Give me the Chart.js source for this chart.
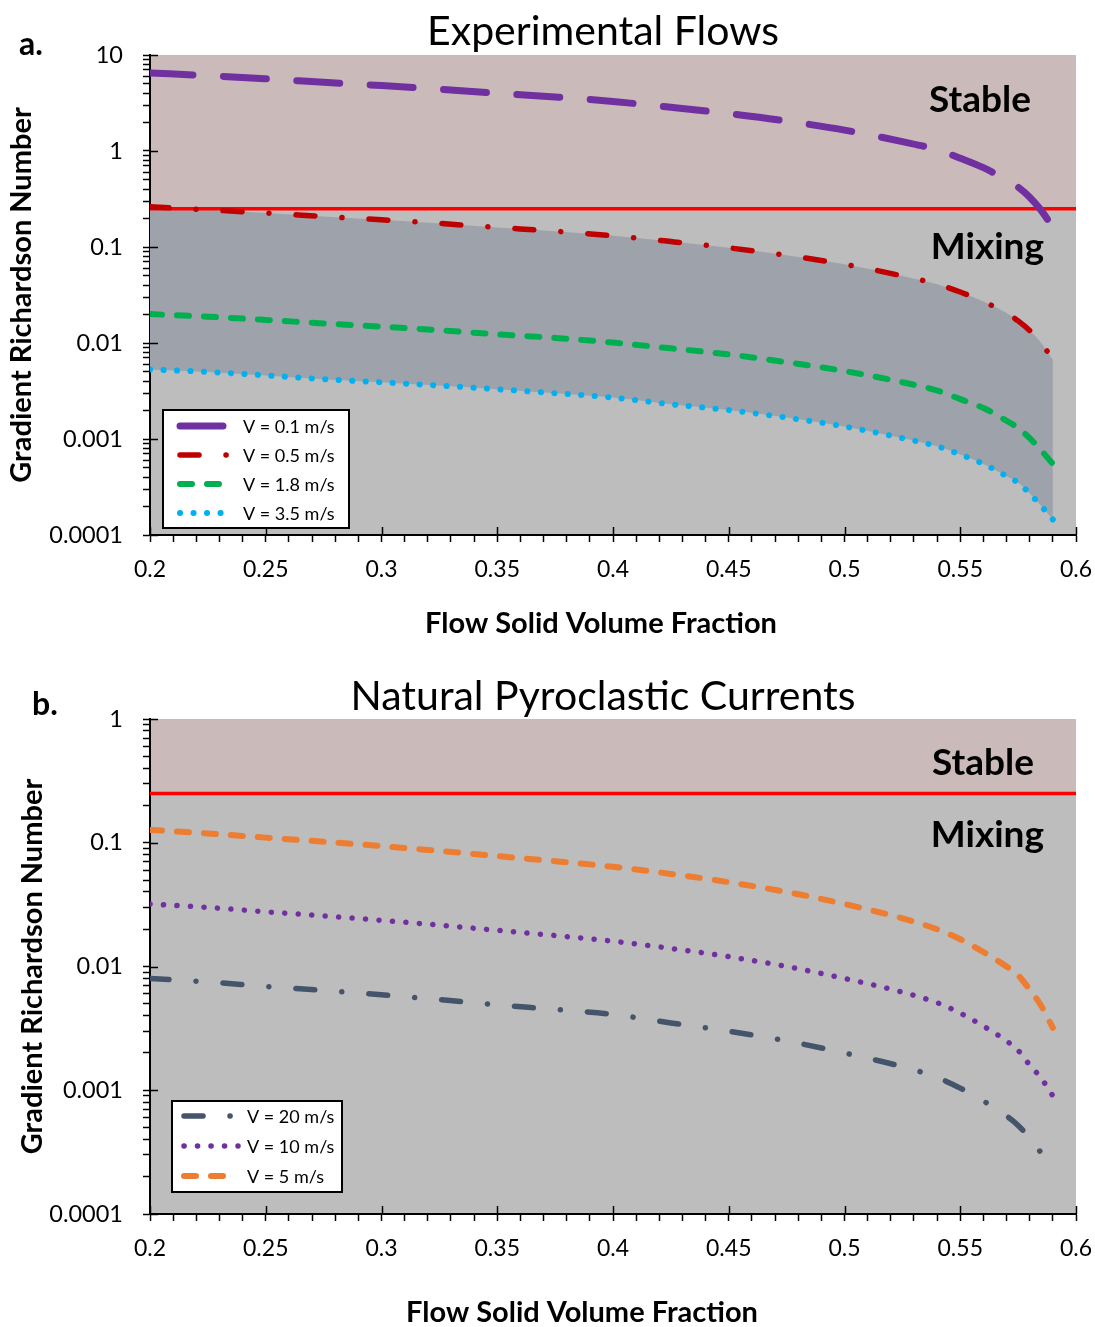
<!DOCTYPE html>
<html><head><meta charset="utf-8">
<script src="https://cdn.jsdelivr.net/npm/chart.js@4.4.1/dist/chart.umd.min.js"></script>
<style>
html,body{margin:0;padding:0;background:#fff;}
body{width:1095px;height:1327px;position:relative;overflow:hidden;}
.wrap{position:absolute;left:0;width:1095px;}
#wa{top:0;height:660px;}
#wb{top:660px;height:667px;}
canvas{display:block;}
</style></head><body>
<div class="wrap" id="wa"><canvas id="ca" width="1095" height="660"></canvas></div>
<div class="wrap" id="wb"><canvas id="cb" width="1095" height="667"></canvas></div>
<script>
// ---------------- DATA ----------------
const PHI = [0.2,0.225,0.25,0.275,0.3,0.325,0.35,0.375,0.4,0.425,0.45,0.475,0.5,0.525,0.54,0.55,0.56,0.57,0.575,0.58,0.585,0.59];

// (a) Experimental flows
const RI_EXP_V01 = [6.5,6.1,5.65,5.2,4.8,4.4,4.0,3.65,3.28,2.85,2.45,2.05,1.65,1.25,1.03,0.84,0.67,0.50,0.42,0.33,0.24,0.16];
const RI_EXP_V05 = [0.262,0.244,0.226,0.208,0.192,0.176,0.160,0.146,0.131,0.114,0.098,0.082,0.066,0.050,0.041,0.034,0.027,0.0205,0.017,0.0135,0.0100,0.0067];
const RI_EXP_V18 = [0.0200,0.0188,0.0174,0.0160,0.0148,0.0136,0.0123,0.0113,0.0101,0.0088,0.0076,0.0063,0.0051,0.0039,0.0032,0.0026,0.0021,0.00155,0.0013,0.00102,0.00076,0.00055];
const RI_EXP_V35 = [0.0053,0.0050,0.0046,0.0042,0.0039,0.0036,0.0033,0.0030,0.0027,0.0023,0.0020,0.00167,0.00135,0.00102,0.00084,0.00069,0.00055,0.00041,0.00035,0.00027,0.00020,0.000145];

// (b) Natural pyroclastic currents
const RI_NAT_V20 = [0.0080,0.0075,0.0069,0.0064,0.0059,0.0054,0.0049,0.0045,0.0041,0.0035,0.0030,0.0025,0.0020,0.00155,0.00127,0.00104,0.00082,0.00062,0.00052,0.00041,0.00031,0.00022];
const RI_NAT_V10 = [0.032,0.030,0.0277,0.0256,0.0236,0.0216,0.0196,0.0178,0.0160,0.0140,0.0120,0.0100,0.0080,0.0062,0.0051,0.0042,0.0033,0.0025,0.0021,0.0016,0.00125,0.0009];
const RI_NAT_V5  = [0.127,0.119,0.110,0.102,0.094,0.086,0.078,0.071,0.064,0.056,0.048,0.040,0.032,0.0245,0.020,0.0166,0.0131,0.0100,0.0085,0.0065,0.0048,0.0032];

const RI_CRIT = 0.25;

const X_MAJOR = [0.2,0.25,0.3,0.35,0.4,0.45,0.5,0.55,0.6];
const X_LABELS = ['0.2','0.25','0.3','0.35','0.4','0.45','0.5','0.55','0.6'];
const Y_A_DECADES = [0.0001,0.001,0.01,0.1,1,10];
const Y_A_LABELS = ['0.0001','0.001','0.01','0.1','1','10'];
const Y_B_DECADES = [0.0001,0.001,0.01,0.1,1];
const Y_B_LABELS = ['0.0001','0.001','0.01','0.1','1'];

const LEGEND_A = ['V = 0.1 m/s','V = 0.5 m/s','V = 1.8 m/s','V = 3.5 m/s'];
const LEGEND_B = ['V = 20 m/s','V = 10 m/s','V = 5 m/s'];

// ---------------- STYLE ----------------
const STABLE_COLOR = '#cbbaba';
const MIX_COLOR = '#bdbdbd';
const BAND_COLOR = '#9ea2ab';

Chart.defaults.font.family = 'Lato, "Open Sans", sans-serif';
Chart.defaults.color = '#000';

function pts(arr){ return PHI.map((x,i)=>({x:x, y:arr[i]})); }
function line(label, arr, color, width, dash, extra){
  return Object.assign({label:label, data:pts(arr), borderColor:color, backgroundColor:color,
    borderWidth:width, borderDash:dash, borderCapStyle:'round', borderJoinStyle:'round',
    pointRadius:0, cubicInterpolationMode:'monotone', fill:false, inLegend:true}, extra||{});
}
function critLine(){
  return {label:'Ri = 0.25', data:[{x:0.2,y:RI_CRIT},{x:0.6,y:RI_CRIT}], borderColor:'#ff0000',
    borderWidth:3.5, pointRadius:0, fill:false, inLegend:false};
}

function logTicks(decades){
  const out = [];
  for (let i=0;i<decades.length;i++){
    const d = decades[i];
    if (i === decades.length-1){ out.push(d); break; }
    for (let k=1;k<=9;k++) out.push(Number((k*d).toPrecision(4)));
  }
  return out;
}
function xTicks(){
  const out=[]; for(let i=20;i<=60;i++) out.push(i/100); return out;
}

const regionsPlugin = {
  id:'regions',
  beforeDraw(chart){
    const {ctx, chartArea:a, scales:{y}} = chart;
    const yc = y.getPixelForValue(RI_CRIT);
    ctx.save();
    ctx.fillStyle = MIX_COLOR;
    ctx.fillRect(a.left, a.top, a.right-a.left, a.bottom-a.top);
    ctx.fillStyle = STABLE_COLOR;
    ctx.fillRect(a.left, a.top, a.right-a.left, yc-a.top);
    ctx.restore();
  }
};

const annotPlugin = {
  id:'annot',
  afterLayout(chart, args, o){
    const s = chart.scales.x;
    if (s && !s._titleShifted){
      const orig = s.drawTitle;
      s.drawTitle = function(){ this.ctx.save(); this.ctx.translate(o.xTitleDx, 0); orig.apply(this, arguments); this.ctx.restore(); };
      s._titleShifted = true;
    }
  },
  afterDraw(chart, args, o){
    const {ctx, chartArea:a, scales:{x,y}} = chart;
    ctx.save();
    // inward half of major ticks
    ctx.strokeStyle='#000'; ctx.lineWidth=1.5; ctx.setLineDash([]);
    o.yDecades.forEach(v=>{ const py=Math.round(y.getPixelForValue(v))+0.5; ctx.beginPath(); ctx.moveTo(a.left, py); ctx.lineTo(a.left+8, py); ctx.stroke(); });
    X_MAJOR.forEach(v=>{ const px=Math.round(x.getPixelForValue(v))+0.5; ctx.beginPath(); ctx.moveTo(px, a.bottom); ctx.lineTo(px, a.bottom-8); ctx.stroke(); });
    // texts
    ctx.fillStyle='#000'; ctx.textBaseline='middle';
    ctx.font = 'normal 41px Lato'; ctx.textAlign='center';
    ctx.fillText(o.title, o.titleX, o.titleY);
    ctx.font = 'bold 32px Lato'; ctx.textAlign='center';
    ctx.fillText(o.letter, o.letterX, o.letterY);
    ctx.font = 'bold 37px Lato'; ctx.textAlign='right';
    ctx.fillText('Stable', o.stableX, o.stableY);
    ctx.fillText('Mixing', o.mixX, o.mixY);
    // legend
    const L = o.legend;
    ctx.fillStyle='#fff'; ctx.fillRect(L.x, L.y, L.w, L.h);
    ctx.strokeStyle='#000'; ctx.lineWidth=2; ctx.strokeRect(L.x, L.y, L.w, L.h);
    o.legendOrder.forEach((idx, r)=>{
      const d = chart.data.datasets[idx];
      const ry = L.y + L.rowTop + r*L.rowH;
      ctx.save();
      ctx.strokeStyle = d.borderColor; ctx.lineWidth = d.borderWidth;
      ctx.lineCap='round'; ctx.setLineDash(d.borderDash||[]);
      ctx.beginPath(); ctx.moveTo(L.x+L.s0, ry); ctx.lineTo(L.x+L.s1, ry); ctx.stroke();
      ctx.restore();
      ctx.fillStyle='#000'; ctx.font='normal 18px Lato'; ctx.textAlign='left'; ctx.textBaseline='middle';
      ctx.fillText(o.legendLabels[r], L.x+L.tx, ry+1);
    });
    ctx.restore();
  }
};

function makeOptions(cfg){
  return {
    responsive:false, animation:false, devicePixelRatio:1,
    layout:{padding:{top:cfg.top, right:19, left:0, bottom:0}},
    plugins:{
      legend:{display:false}, tooltip:{enabled:false}, title:{display:false},
      filler:{drawTime:'beforeDatasetsDraw'},
      annot: cfg.annot
    },
    scales:{
      x:{type:'linear', min:0.2, max:0.6,
        afterBuildTicks:s=>{ s.ticks = xTicks().map(v=>({value:v})); },
        afterFit:s=>{ s.height = cfg.xHeight; s.paddingLeft = 0; s.paddingRight = 0; },
        ticks:{autoSkip:false, maxRotation:0, padding:14, font:{size:23},
          callback:v=>{ const i = X_MAJOR.findIndex(m=>Math.abs(m-v)<1e-9); return i>=0 ? X_LABELS[i] : ''; }},
        grid:{drawOnChartArea:false, drawTicks:true, tickLength:7, tickColor:'#000', tickWidth:1.5},
        border:{display:true, color:'#000', width:2},
        title:{display:true, text:'Flow Solid Volume Fraction', font:{size:29, weight:'bold', lineHeight:1}, padding:{top:0, bottom:cfg.xTitlePad}}
      },
      y:{type:'logarithmic', min:cfg.ymin, max:cfg.ymax,
        afterBuildTicks:s=>{ s.ticks = logTicks(cfg.decades).map(v=>({value:v})); },
        afterFit:s=>{ s.width = 150; s.paddingTop = 0; s.paddingBottom = 0; },
        ticks:{autoSkip:false, padding:20, font:{size:23.5},
          callback:v=>{ const i = cfg.decades.findIndex(m=>Math.abs(v/m-1)<1e-6); return i>=0 ? cfg.labels[i] : ''; }},
        grid:{drawOnChartArea:false, drawTicks:true, tickLength:7, tickColor:'#000', tickWidth:1.5},
        border:{display:true, color:'#000', width:2},
        title:{display:true, text:'Gradient Richardson Number', font:{size:29, weight:'bold'}, padding:{top:cfg.yTitlePad, bottom:0}}
      }
    }
  };
}

// Chart a
new Chart(document.getElementById('ca'), {
  type:'line',
  data:{datasets:[
    line(LEGEND_A[0], RI_EXP_V01, '#7030a0', 7, [43,30.5]),
    line(LEGEND_A[1], RI_EXP_V05, '#c00000', 5.5, [19,27,0.1,27], {fill:{target:3}, backgroundColor:BAND_COLOR}),
    line(LEGEND_A[2], RI_EXP_V18, '#00b050', 6, [12,15]),
    line(LEGEND_A[3], RI_EXP_V35, '#00b0f0', 6, [0.1,13.4]),
    critLine()
  ]},
  options: makeOptions({top:55, xHeight:660-535, xTitlePad:21.5, yTitlePad:4.6, ymin:0.0001, ymax:10,
    decades:Y_A_DECADES, labels:Y_A_LABELS,
    annot:{title:'Experimental Flows', titleX:603, titleY:32, letter:'a.', letterX:31, letterY:45,
      stableX:1031, stableY:100, mixX:1044, mixY:247, yDecades:Y_A_DECADES, xTitleDx:-12,
      legend:{x:163, y:410, w:186, h:118, rowTop:16, rowH:29, s0:17, s1:69, tx:80},
      legendOrder:[0,1,2,3], legendLabels:LEGEND_A}}),
  plugins:[regionsPlugin, annotPlugin]
});

// Chart b
new Chart(document.getElementById('cb'), {
  type:'line',
  data:{datasets:[
    line(LEGEND_B[0], RI_NAT_V20, '#44546a', 5.5, [19,27,0.1,27]),
    line(LEGEND_B[1], RI_NAT_V10, '#7030a0', 5.5, [0.1,13.4]),
    line(LEGEND_B[2], RI_NAT_V5, '#ed7d31', 6, [12,15]),
    critLine()
  ]},
  options: makeOptions({top:59, xHeight:667-554, xTitlePad:0, yTitlePad:15.6, ymin:0.0001, ymax:1,
    decades:Y_B_DECADES, labels:Y_B_LABELS,
    annot:{title:'Natural Pyroclastic Currents', titleX:603, titleY:37, letter:'b.', letterX:45, letterY:45,
      stableX:1034, stableY:103, mixX:1044, mixY:175, yDecades:Y_B_DECADES, xTitleDx:-31,
      legend:{x:172, y:441, w:170, h:91, rowTop:15, rowH:30, s0:12, s1:66, tx:75},
      legendOrder:[0,1,2], legendLabels:LEGEND_B}}),
  plugins:[regionsPlugin, annotPlugin]
});
</script></body></html>
